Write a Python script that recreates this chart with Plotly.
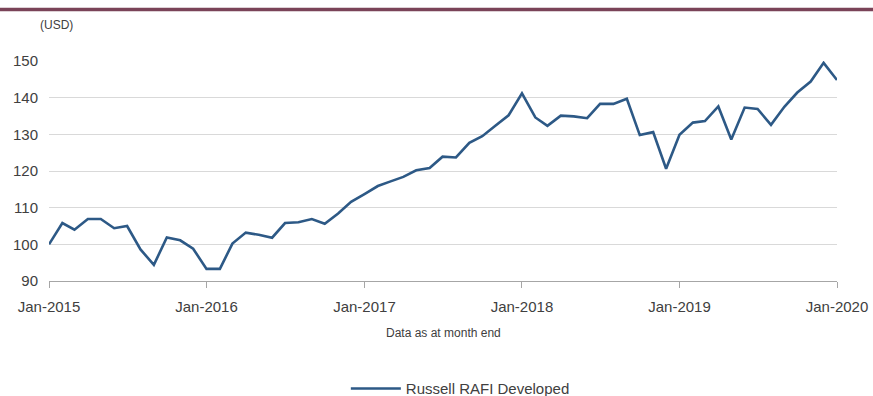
import pandas as pd
import plotly.graph_objects as go

months = pd.date_range("2015-01-01", "2020-01-01", freq="MS")
values = [
    100.0, 105.8, 104.0, 106.9, 106.9, 104.4, 105.0, 98.6, 94.4, 101.9, 101.1, 98.8,
    93.3, 93.3, 100.2, 103.2, 102.6, 101.8, 105.8, 106.0, 106.9, 105.6, 108.4, 111.6,
    113.7, 115.9, 117.1, 118.4, 120.2, 120.8, 123.9, 123.7, 127.7, 129.5, 132.4, 135.2,
    141.2, 134.6, 132.3, 135.1, 134.9, 134.4, 138.3, 138.3, 139.7, 129.8, 130.6, 120.6,
    129.9, 133.2, 133.6, 137.6, 128.6, 137.3, 136.9, 132.6, 137.5, 141.4, 144.4, 149.5,
    144.8,
]
series_name = "Russell RAFI Developed"
y_ticks = [90, 100, 110, 120, 130, 140, 150]
x_ticks = pd.date_range("2015-01-01", "2020-01-01", freq="YS")

FONT = "Liberation Sans, Arial, sans-serif"
TXT = "#404040"

fig = go.Figure()
fig.add_trace(go.Scatter(
    x=months, y=values, mode="lines", name=series_name,
    line=dict(color="#2d5986", width=2.6),
))

fig.update_layout(
    width=873, height=396,
    margin=dict(l=49, r=36, t=61, b=115, autoexpand=False),
    paper_bgcolor="white", plot_bgcolor="white",
    font=dict(family=FONT, size=15, color=TXT),
    showlegend=True,
    legend=dict(orientation="h", x=0.522, xanchor="center", y=-0.49, yanchor="middle",
                font=dict(size=15, color=TXT), itemwidth=50),
    xaxis=dict(
        range=[months[0], months[-1]],
        tickvals=list(x_ticks), tickformat="%b-%Y",
        showgrid=False, showline=True, linecolor="#a6a6a6", linewidth=1,
        ticks="outside", ticklen=6, tickcolor="#a6a6a6",
        tickfont=dict(size=15, color=TXT),
        ticklabelstandoff=6, automargin=False,
        zeroline=False,
    ),
    yaxis=dict(
        range=[90, 150], tickvals=y_ticks,
        showgrid=True, gridcolor="#d9d9d9", gridwidth=1,
        showline=False, zeroline=False, automargin=False,
        tickfont=dict(size=15, color=TXT),
        ticklabelstandoff=10,
    ),
    shapes=[dict(type="line", xref="paper", yref="paper",
                 x0=-49/788, x1=(873-49)/788, y0=(281-9.5)/220, y1=(281-9.5)/220,
                 line=dict(color="#7a4358", width=3.5))],
    annotations=[
        dict(text="(USD)", xref="paper", yref="paper", x=0.01, y=(281-25)/220,
             showarrow=False, font=dict(size=12, color=TXT), xanchor="center", yanchor="middle"),
        dict(text="Data as at month end", xref="paper", yref="paper", x=0.5, y=(281-333)/220,
             showarrow=False, font=dict(size=12, color=TXT), xanchor="center", yanchor="middle"),
    ],
)

fig.write_html("out.html")
